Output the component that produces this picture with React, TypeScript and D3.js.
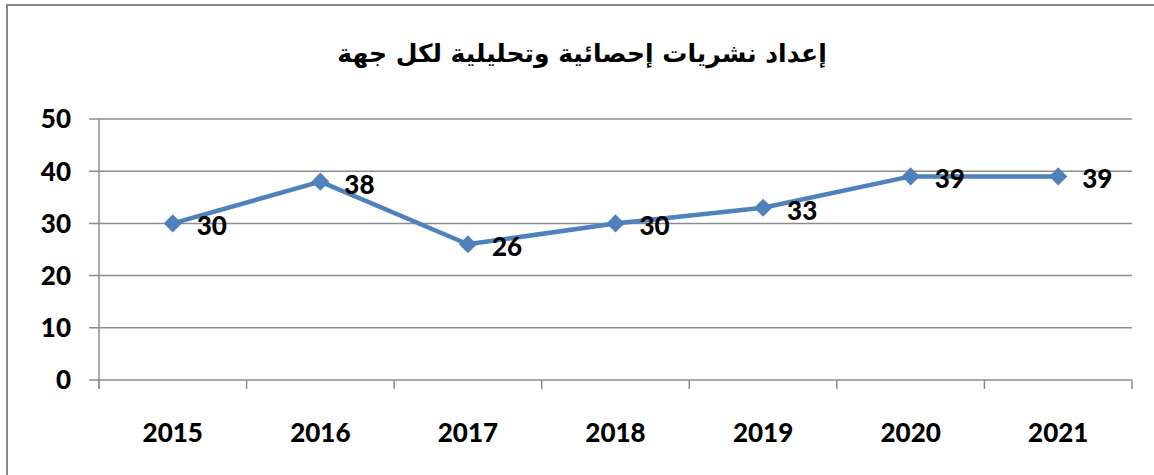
import React from "react";
import * as d3 from "d3";

const title = "إعداد نشريات إحصائية وتحليلية لكل جهة";
const years = ["2015", "2016", "2017", "2018", "2019", "2020", "2021"];
const values = [30, 38, 26, 30, 33, 39, 39];
const yTicks = [0, 10, 20, 30, 40, 50];

const W = 1154;
const H = 475;
const left = 99;
const right = 1132;
const top = 119;
const bottom = 380;

export default function App() {
  const x = d3.scaleBand<string>().domain(years).range([left, right]);
  const y = d3.scaleLinear().domain([0, 50]).range([bottom, top]);
  const cx = (d: string) => (x(d) ?? 0) + x.bandwidth() / 2;
  const line = d3
    .line<number>()
    .x((_, i) => cx(years[i]))
    .y((v) => y(v));
  const diamond = d3.symbol().type(d3.symbolSquare).size(165)() as string;
  const font = "Lato, 'Open Sans', sans-serif";
  const fs = 26;
  const fw = 900;
  const grid = "#8c8c8c";
  const tickEdges = years.map((d) => x(d) ?? 0).concat([right]);

  return (
    <svg
      width={W}
      height={H}
      style={{ position: "absolute", left: 0, top: 0, background: "#fff" }}
    >
      <rect x={7} y={5} width={W} height={H} fill="#fff" stroke="#888" strokeWidth={2} />
      <text
        x={582}
        y={62}
        textAnchor="middle"
        direction="rtl"
        fontFamily="'DejaVu Sans', sans-serif"
        fontWeight="bold"
        fontSize={25}
        fill="#000"
      >
        {title}
      </text>
      {yTicks.map((t) => (
        <g key={t}>
          <line x1={89} x2={right} y1={y(t)} y2={y(t)} stroke={grid} strokeWidth={1.5} />
          <text
            x={71}
            y={y(t)}
            dy="0.36em"
            textAnchor="end"
            fontFamily={font}
            fontWeight={fw}
            fontSize={fs}
            fill="#000"
          >
            {t}
          </text>
        </g>
      ))}
      <line x1={left} x2={left} y1={top} y2={bottom + 9} stroke={grid} strokeWidth={1.5} />
      {tickEdges.map((e, i) => (
        <line key={i} x1={e} x2={e} y1={bottom} y2={bottom + 9} stroke={grid} strokeWidth={1.5} />
      ))}
      {years.map((d) => (
        <text
          key={d}
          x={cx(d)}
          y={442}
          textAnchor="middle"
          fontFamily={font}
          fontWeight={fw}
          fontSize={fs}
          fill="#000"
        >
          {d}
        </text>
      ))}
      <path d={line(values) ?? ""} fill="none" stroke="#4F81BD" strokeWidth={4.5} strokeLinejoin="round" />
      {values.map((v, i) => (
        <path
          key={i}
          d={diamond}
          transform={`translate(${cx(years[i])},${y(v)}) rotate(45)`}
          fill="#4F81BD"
        />
      ))}
      {values.map((v, i) => (
        <text
          key={i}
          x={cx(years[i]) + 24}
          y={y(v) + 12}
          fontFamily={font}
          fontWeight={fw}
          fontSize={fs}
          fill="#000"
        >
          {v}
        </text>
      ))}
    </svg>
  );
}
